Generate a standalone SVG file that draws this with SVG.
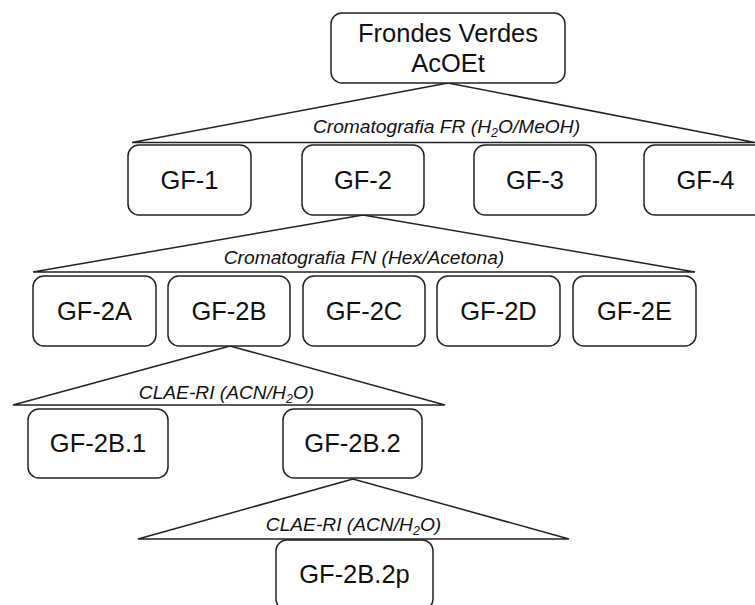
<svg xmlns="http://www.w3.org/2000/svg" width="755" height="605" viewBox="0 0 755 605">
<style>
.box{fill:#fff;stroke:#222;stroke-width:1.5}
.t{font-family:"Liberation Sans",Arial,sans-serif;font-size:25.5px;fill:#111;text-anchor:middle}
.lbl{font-family:"Liberation Sans",Arial,sans-serif;font-size:19.2px;font-style:italic;fill:#111;text-anchor:middle}
.sub{font-size:12.5px}
.c{fill:none;stroke:#222;stroke-width:1.5;stroke-linejoin:miter}
</style>
<rect width="755" height="605" fill="#fff"/>
<g id="connectors">
<path class="c" d="M448,83 L132,142.5 L755,142.5 Z"/>
<path class="c" d="M363,215 L33,272 L695,272 Z"/>
<path class="c" d="M230,346 L13,405 L445,405 Z"/>
<path class="c" d="M353,479 L138,539 L569,539 Z"/>
</g>
<g id="labels">
<text class="lbl" x="446.5" y="133">Cromatografia FR (H<tspan class="sub" dy="4">2</tspan><tspan dy="-4">O/MeOH)</tspan></text>
<text class="lbl" x="364" y="264">Cromatografia FN (Hex/Acetona)</text>
<text class="lbl" x="226.5" y="399">CLAE-RI (ACN/H<tspan class="sub" dy="4">2</tspan><tspan dy="-4">O)</tspan></text>
<text class="lbl" x="353.5" y="531">CLAE-RI (ACN/H<tspan class="sub" dy="4">2</tspan><tspan dy="-4">O)</tspan></text>
</g>
<g id="root"><rect class="box" x="331" y="13" width="234" height="70" rx="11"/><text class="t" x="448" y="42">Frondes Verdes</text><text class="t" x="448" y="72">AcOEt</text></g>
<g id="gf1"><rect class="box" x="128" y="145" width="123" height="70" rx="11"/><text class="t" x="189.5" y="189">GF-1</text></g>
<g id="gf2"><rect class="box" x="302" y="145" width="122" height="70" rx="11"/><text class="t" x="363" y="189">GF-2</text></g>
<g id="gf3"><rect class="box" x="474" y="145" width="122" height="70" rx="11"/><text class="t" x="535" y="189">GF-3</text></g>
<g id="gf4"><rect class="box" x="644" y="145" width="123" height="70" rx="11"/><text class="t" x="705.5" y="189">GF-4</text></g>
<g id="gf2a"><rect class="box" x="33" y="276" width="123" height="70" rx="11"/><text class="t" x="94.5" y="320">GF-2A</text></g>
<g id="gf2b"><rect class="box" x="168" y="276" width="122" height="70" rx="11"/><text class="t" x="229" y="320">GF-2B</text></g>
<g id="gf2c"><rect class="box" x="303" y="276" width="122" height="70" rx="11"/><text class="t" x="364" y="320">GF-2C</text></g>
<g id="gf2d"><rect class="box" x="437" y="276" width="123" height="70" rx="11"/><text class="t" x="498.5" y="320">GF-2D</text></g>
<g id="gf2e"><rect class="box" x="573" y="276" width="123" height="70" rx="11"/><text class="t" x="634.5" y="320">GF-2E</text></g>
<g id="gf2b1"><rect class="box" x="28" y="409" width="140" height="69" rx="11"/><text class="t" x="98" y="452">GF-2B.1</text></g>
<g id="gf2b2"><rect class="box" x="283" y="409" width="139" height="69" rx="11"/><text class="t" x="352.5" y="452">GF-2B.2</text></g>
<g id="gf2b2p"><rect class="box" x="276" y="540" width="157" height="70" rx="11"/><text class="t" x="354.5" y="583">GF-2B.2p</text></g>
</svg>
